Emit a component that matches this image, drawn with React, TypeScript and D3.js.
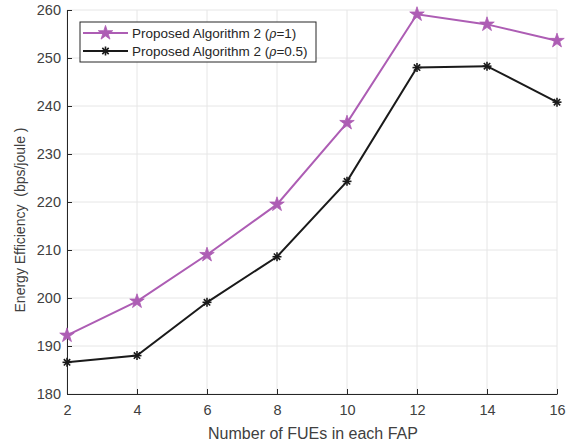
import React, { useEffect, useRef } from 'react';
import * as d3 from 'd3';

const fues = [2, 4, 6, 8, 10, 12, 14, 16];
const rho1 = [192.2, 199.3, 209.0, 219.5, 236.5, 259.1, 257.0, 253.6];
const rho05 = [186.6, 188.0, 199.1, 208.6, 224.3, 248.0, 248.3, 240.8];
const xTicks = [2, 4, 6, 8, 10, 12, 14, 16];
const yTicks = [180, 190, 200, 210, 220, 230, 240, 250, 260];
const seriesNames = ['Proposed Algorithm 2 (', 'Proposed Algorithm 2 ('];
const seriesRho = ['=1)', '=0.5)'];

const App = () => {
  const ref = useRef<SVGSVGElement>(null);

  useEffect(() => {
    const W = 570;
    const H = 445;
    const margin = { top: 10, right: 13, bottom: 51, left: 67 };
    const width = W - margin.left - margin.right;
    const height = H - margin.top - margin.bottom;
    const font = 'Liberation Sans, Arial, sans-serif';
    const textCol = '#404040';

    const root = d3.select(ref.current);
    root.selectAll('*').remove();
    const svg = root.append('g').attr('transform', `translate(${margin.left},${margin.top})`);

    const x = d3.scaleLinear().domain([2, 16]).range([0, width]);
    const y = d3.scaleLinear().domain([180, 260]).range([height, 0]);

    // grid
    svg.append('g').selectAll('line').data(xTicks).enter().append('line')
      .attr('x1', d => x(d)).attr('x2', d => x(d)).attr('y1', 0).attr('y2', height)
      .attr('stroke', '#e6e6e6').attr('stroke-width', 1);
    svg.append('g').selectAll('line').data(yTicks).enter().append('line')
      .attr('x1', 0).attr('x2', width).attr('y1', d => y(d)).attr('y2', d => y(d))
      .attr('stroke', '#e6e6e6').attr('stroke-width', 1);

    // axes
    const xAxis = svg.append('g').attr('transform', `translate(0,${height})`)
      .call(d3.axisBottom(x).tickValues(xTicks).tickSize(-5).tickPadding(11).tickSizeOuter(0));
    const yAxis = svg.append('g')
      .call(d3.axisLeft(y).tickValues(yTicks).tickSize(-5).tickPadding(6).tickSizeOuter(0));
    [xAxis, yAxis].forEach(a => {
      a.select('.domain').attr('stroke', '#262626');
      a.selectAll('.tick line').attr('stroke', '#262626');
      a.selectAll('.tick text').attr('fill', textCol).attr('font-family', font).attr('font-size', 14.5);
    });

    // labels
    svg.append('text').attr('x', width / 2 + 1).attr('y', height + 45)
      .attr('text-anchor', 'middle').attr('font-family', font).attr('font-size', 16)
      .attr('fill', textCol).text('Number of FUEs in each FAP');
    svg.append('text').attr('transform', `translate(${-42},${height / 2 + 18}) rotate(-90)`)
      .attr('text-anchor', 'middle').attr('font-family', font).attr('font-size', 14)
      .attr('fill', textCol).style('white-space', 'pre').text('Energy Efficiency  (bps/joule )');

    const line = d3.line<number>().x((_, i) => x(fues[i])).y(d => y(d));
    const purple = '#ad5db4';
    const black = '#1a1a1a';

    const star = d3.symbol().type(d3.symbolStar).size(65);
    const asterisk = (g: any, cx: number, cy: number, col: string) => {
      const r = 4.5;
      for (let k = 0; k < 4; k++) {
        const a = (k * Math.PI) / 4;
        g.append('line')
          .attr('x1', cx - r * Math.cos(a)).attr('y1', cy - r * Math.sin(a))
          .attr('x2', cx + r * Math.cos(a)).attr('y2', cy + r * Math.sin(a))
          .attr('stroke', col).attr('stroke-width', 1.6);
      }
    };

    svg.append('path').datum(rho1).attr('d', line).attr('fill', 'none')
      .attr('stroke', purple).attr('stroke-width', 2);
    svg.append('g').selectAll('path').data(rho1).enter().append('path')
      .attr('d', star).attr('transform', (d, i) => `translate(${x(fues[i])},${y(d)})`)
      .attr('fill', purple).attr('stroke', purple).attr('stroke-width', 0.8);

    svg.append('path').datum(rho05).attr('d', line).attr('fill', 'none')
      .attr('stroke', black).attr('stroke-width', 2);
    const ag = svg.append('g');
    rho05.forEach((d, i) => asterisk(ag, x(fues[i]), y(d), black));

    // legend
    const lg = svg.append('g').attr('transform', 'translate(13,12)');
    lg.append('rect').attr('width', 236).attr('height', 40)
      .attr('fill', 'white').attr('stroke', '#262626').attr('stroke-width', 1);
    [0, 1].forEach(i => {
      const yy = 11 + i * 18;
      lg.append('line').attr('x1', 3).attr('x2', 48).attr('y1', yy).attr('y2', yy)
        .attr('stroke', i === 0 ? purple : black).attr('stroke-width', 2);
      if (i === 0) {
        lg.append('path').attr('d', star).attr('transform', `translate(25.5,${yy})`)
          .attr('fill', purple).attr('stroke', purple).attr('stroke-width', 0.8);
      } else {
        asterisk(lg, 25.5, yy, black);
      }
      const t = lg.append('text').attr('x', 52).attr('y', yy + 4.5)
        .attr('font-family', font).attr('font-size', 13.5).attr('fill', '#262626');
      t.append('tspan').text(seriesNames[i]);
      t.append('tspan').attr('font-style', 'italic').attr('font-family', 'DejaVu Serif, serif').attr('font-size', 12).text('\u03c1');
      t.append('tspan').text(seriesRho[i]);
    });
  }, []);

  return (
    <svg ref={ref} width={570} height={445} style={{ position: 'absolute', left: 0, top: 0, background: 'white' }}></svg>
  );
};

export default App;
